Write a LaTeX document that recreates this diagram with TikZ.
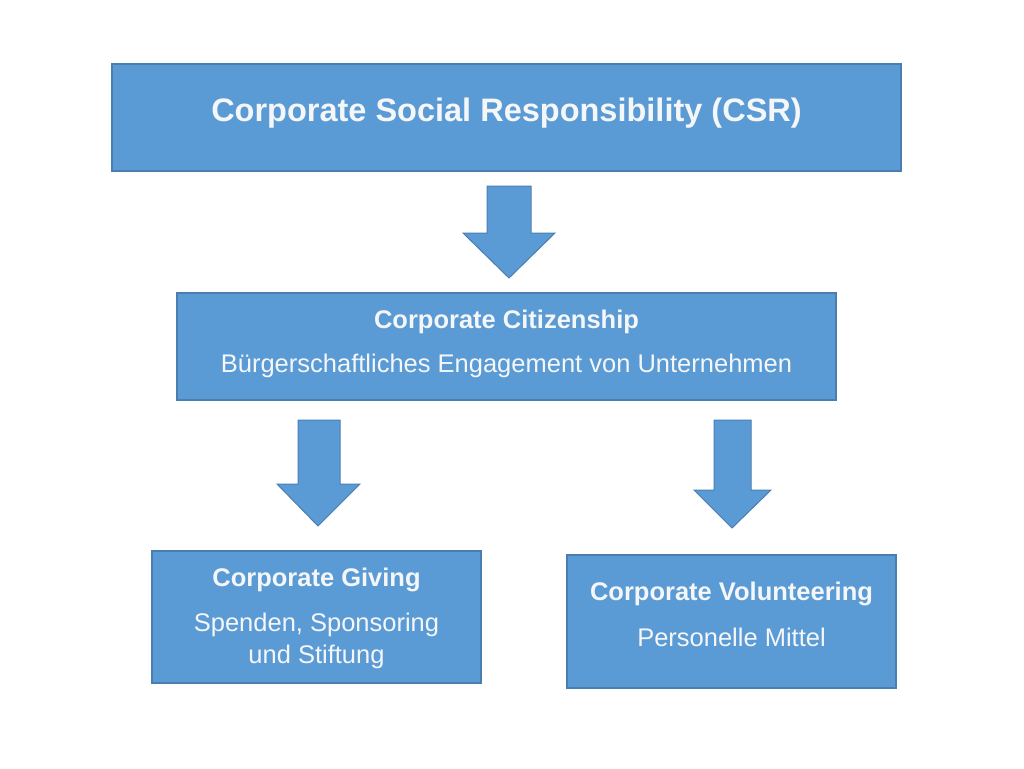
\documentclass[tikz,border=0pt]{standalone}
\usepackage{fontspec}
\setmainfont{Liberation Sans}
\definecolor{boxfill}{HTML}{5B9BD5}
\definecolor{boxline}{HTML}{4A7EB0}
\definecolor{txt}{HTML}{F4F6F8}
\begin{document}
\begin{tikzpicture}[x=1pt,y=-1pt,
  box/.style={draw=boxline, fill=boxfill, line width=1.5pt, inner sep=0pt, outer sep=0pt},
  lbl/.style={text=txt, anchor=base, inner sep=0pt, font=\fontsize{25.5}{30}\selectfont},
  lblb/.style={lbl, font=\fontsize{25.5}{30}\selectfont\bfseries},
  blockarrow/.style={draw=boxline, fill=boxfill, line width=1pt, line join=miter}]
\useasboundingbox (0,0) rectangle (1024,768);
\fill[white] (0,0) rectangle (1024,768);
% boxes
\node[box, minimum width=789pt, minimum height=107pt] (csr) at (506.5,117.5) {};
\node[box, minimum width=659pt, minimum height=107pt] (cc) at (506.5,346.5) {};
\node[box, minimum width=329pt, minimum height=132pt] (cg) at (316.5,617) {};
\node[box, minimum width=329pt, minimum height=133pt] (cv) at (731.5,621.5) {};
% texts
\node[lblb, font=\fontsize{32.5}{36}\selectfont\bfseries] (t1) at (506.5,121) {Corporate Social Responsibility (CSR)};
\node[lblb] (t2) at (506.5,328) {Corporate Citizenship};
\node[lbl] (t3) at (506.5,372) {Bürgerschaftliches Engagement von Unternehmen};
\node[lblb] (t4) at (316.5,586) {Corporate Giving};
\node[lbl] (t5) at (316.5,631) {Spenden, Sponsoring};
\node[lbl] (t6) at (316.5,663) {und Stiftung};
\node[lblb] (t7) at (731.5,600) {Corporate Volunteering};
\node[lbl] (t8) at (731.5,646) {Personelle Mittel};
% block arrows
\draw[blockarrow] (487,186) -- (531,186) -- (531,233) -- (555,233) -- (509,278) -- (463,233) -- (487,233) -- cycle;
\draw[blockarrow] (298,420) -- (340,420) -- (340,484) -- (360,484) -- (318,526) -- (277,484) -- (298,484) -- cycle;
\draw[blockarrow] (714,420) -- (751,420) -- (751,490) -- (771,490) -- (732,528) -- (694,490) -- (714,490) -- cycle;
\end{tikzpicture}
\end{document}
